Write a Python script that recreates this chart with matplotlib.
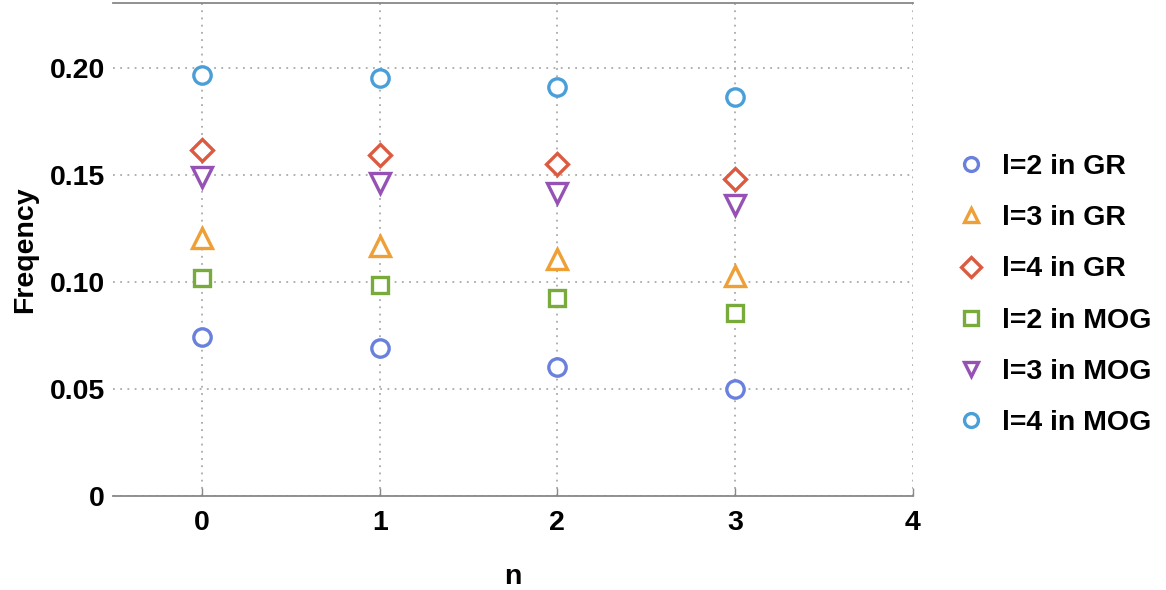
import matplotlib.pyplot as plt

plt.rcParams['font.family'] = ['Liberation Sans', 'DejaVu Sans']
plt.rcParams['font.weight'] = 'bold'

n = [0, 1, 2, 3]
labels = ['l=2 in GR', 'l=3 in GR', 'l=4 in GR', 'l=2 in MOG', 'l=3 in MOG', 'l=4 in MOG']
l2_gr = [0.0745, 0.0692, 0.0603, 0.0500]
l3_gr = [0.1205, 0.1170, 0.1108, 0.1030]
l4_gr = [0.1620, 0.1595, 0.1550, 0.1480]
l2_mog = [0.1020, 0.0988, 0.0925, 0.0855]
l3_mog = [0.1490, 0.1465, 0.1418, 0.1362]
l4_mog = [0.1967, 0.1953, 0.1913, 0.1864]

series = [l2_gr, l3_gr, l4_gr, l2_mog, l3_mog, l4_mog]
colors = ['#6a80dd', '#ee9f35', '#dc5a3f', '#79ab3c', '#9551b3', '#4a9fd9']
markers = ['o', '^', 'D', 's', 'v', 'o']
sizes = [12.5, 14, 11, 11.5, 14, 12.5]

fig = plt.figure(figsize=(11.66, 5.9), dpi=100)
ax = fig.add_axes([0.0969, 0.1593, 0.6861, 0.8356])

for ys, lab, c, m, s in zip(series, labels, colors, markers, sizes):
    ax.plot(n, ys, linestyle='none', marker=m, markersize=s, markerfacecolor='white',
            markeredgecolor=c, markeredgewidth=2.4, label=lab, zorder=3)

ax.set_xlim(-0.5, 4.0)
ax.set_ylim(0, 0.2305)
ax.set_xticks([0, 1, 2, 3, 4])
ax.set_yticks([0, 0.05, 0.10, 0.15, 0.20])
ax.set_yticklabels(['0', '0.05', '0.10', '0.15', '0.20'])
ax.grid(True, color='#aaaaaa', linestyle=(0, (1, 3)), linewidth=1.3)

for side in ['left', 'right']:
    ax.spines[side].set_visible(False)
ax.spines['top'].set_color('#888888')
ax.spines['bottom'].set_color('#888888')
ax.spines['top'].set_linewidth(1.3)
ax.spines['bottom'].set_linewidth(1.3)

ax.tick_params(axis='x', direction='in', length=6, width=1, color='#888888', labelsize=20.5, pad=10)
ax.tick_params(axis='y', length=0, labelsize=20.5, pad=6)

ax.set_xlabel('n', fontsize=20.5, fontweight='bold', labelpad=20)
ax.set_ylabel('Freqency', fontsize=20.5, fontweight='bold', labelpad=8)

leg = fig.legend(loc='center left', bbox_to_anchor=(0.797, 0.5), frameon=False,
                 fontsize=20.5, labelspacing=0.88, handletextpad=0.55, handlelength=1.1)
for h in leg.legend_handles:
    h.set_markersize(10)

fig.savefig('out.png', dpi=100)
